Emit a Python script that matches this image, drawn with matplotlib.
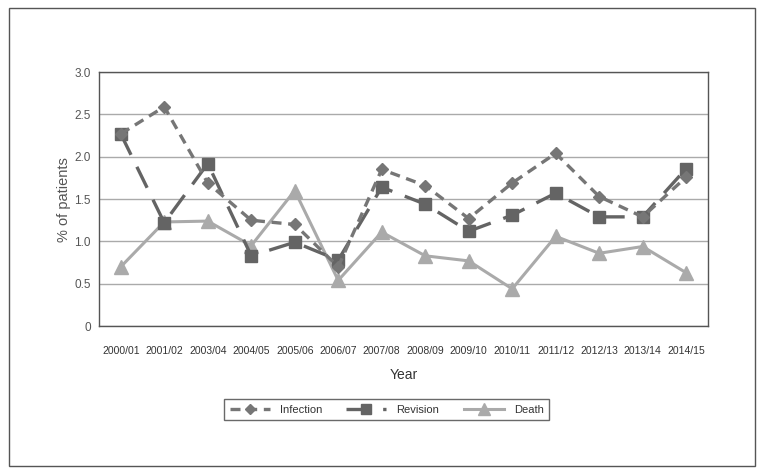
import numpy as np
import matplotlib
matplotlib.use('Agg')
import matplotlib.pyplot as plt
from matplotlib.patches import Rectangle

plt.rcParams['font.family'] = ['Liberation Sans', 'DejaVu Sans']

years = ['2000/01', '2001/02', '2003/04', '2004/05', '2005/06', '2006/07', '2007/08',
         '2008/09', '2009/10', '2010/11', '2011/12', '2012/13', '2013/14', '2014/15']
infection = [2.27, 2.59, 1.69, 1.25, 1.20, 0.70, 1.85, 1.66, 1.27, 1.69, 2.04, 1.53, 1.29, 1.76]
revision = [2.27, 1.22, 1.92, 0.83, 0.99, 0.78, 1.64, 1.44, 1.12, 1.31, 1.57, 1.29, 1.29, 1.86]
death = [0.70, 1.23, 1.24, 0.95, 1.60, 0.54, 1.11, 0.83, 0.77, 0.44, 1.06, 0.86, 0.94, 0.63]

x = np.arange(len(years))

fig = plt.figure(figsize=(7.64, 4.74), dpi=100)
# outer frame around the whole figure
fig.patches.append(Rectangle((9 / 764, 1 - 466 / 474), 746 / 764, 458 / 474,
                             transform=fig.transFigure, fill=False,
                             edgecolor='#555555', linewidth=1.0))

ax = fig.add_axes([0.1296, 0.312, 0.797, 0.536])

ax.plot(x, death, color='#aaaaaa', linewidth=2.2, marker='^', markersize=10,
        label='Death', zorder=3)
ax.plot(x, revision, color='#646464', linewidth=2.4, linestyle=(0, (7, 4)),
        marker='s', markersize=9, label='Revision', zorder=4)
ax.plot(x, infection, color='#767676', linewidth=2.4, linestyle=(0, (3, 2)),
        marker='D', markersize=6, label='Infection', zorder=5)

ax.set_ylim(0, 3.0)
ax.set_xlim(-0.5, len(years) - 0.5)
ax.set_yticks([0, 0.5, 1.0, 1.5, 2.0, 2.5, 3.0])
ax.set_yticklabels(['0', '0.5', '1.0', '1.5', '2.0', '2.5', '3.0'])
ax.set_xticks(x)
ax.set_xticklabels(years)
ax.tick_params(axis='x', length=0, labelsize=7.5, colors='#333333', pad=14)
ax.tick_params(axis='y', length=0, labelsize=8.5, colors='#555555', pad=6)
ax.yaxis.grid(True, color='#aaaaaa', linewidth=1.0)
ax.set_axisbelow(True)
for s in ['top', 'bottom', 'left', 'right']:
    ax.spines[s].set_color('#555555')
    ax.spines[s].set_linewidth(1.0)

ax.set_xlabel('Year', fontsize=10, color='#333333', labelpad=9)
ax.set_ylabel('% of patients', fontsize=10.5, color='#555555', labelpad=2)

handles, labels = ax.get_legend_handles_labels()
order = [2, 1, 0]
leg = fig.legend([handles[i] for i in order], [labels[i] for i in order],
                 loc='center', bbox_to_anchor=(0.506, 0.136), ncol=3,
                 fontsize=8, frameon=True, fancybox=False, handlelength=3.6,
                 handletextpad=0.9, columnspacing=2.2, borderpad=0.5,
                 markerscale=0.8)
leg.get_frame().set_edgecolor('#444444')
leg.get_frame().set_linewidth(1.0)
for t in leg.get_texts():
    t.set_color('#333333')

fig.savefig('out.png', dpi=100)
